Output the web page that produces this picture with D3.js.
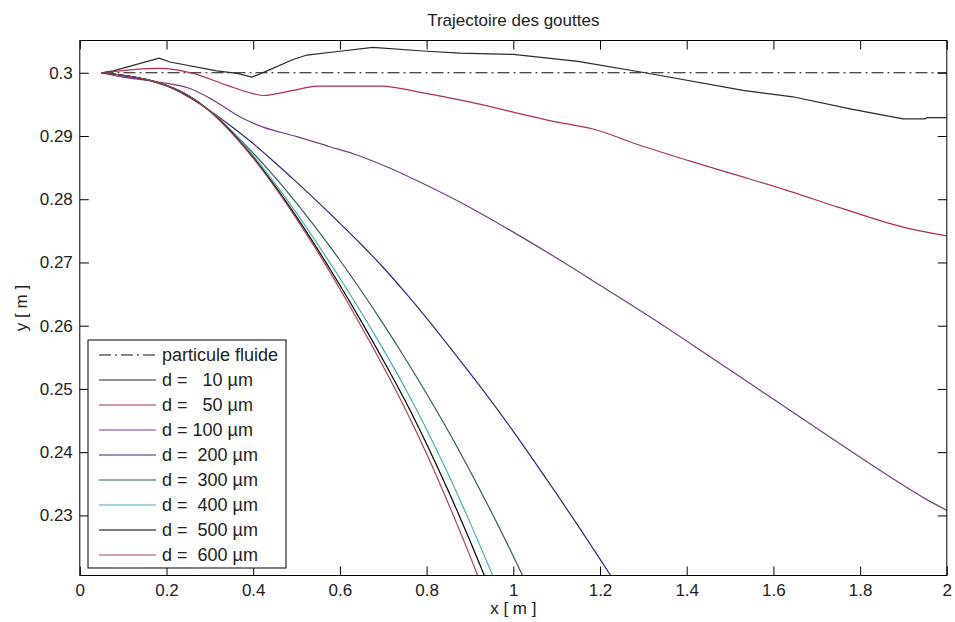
<!DOCTYPE html>
<html>
<head>
<meta charset="utf-8">
<script src="https://cdn.jsdelivr.net/npm/d3@7"></script>
<style>
  body { margin: 0; background: #fff; }
  svg text { font-family: "Liberation Sans", Arial, sans-serif; fill: #222; }
</style>
</head>
<body>
<div id="chart"></div>
<script>
// Tick values
var xTicks = [0, 0.2, 0.4, 0.6, 0.8, 1, 1.2, 1.4, 1.6, 1.8, 2];
var yTicks = [0.23, 0.24, 0.25, 0.26, 0.27, 0.28, 0.29, 0.3];

// Fluid particle (dash-dot reference)
var xFluid = [0.05, 2];
var yFluid = [0.3, 0.3];

// d = 10 um
var x10 = [0.05, 0.077, 0.183, 0.208, 0.316, 0.363, 0.397, 0.432, 0.492, 0.524, 0.6, 0.676, 0.801, 0.877, 1.0, 1.149, 1.304, 1.53, 1.645, 1.777, 1.899, 1.95, 1.954, 2.0];
var y10 = [0.3, 0.3003, 0.3023, 0.3017, 0.3003, 0.2999, 0.2993, 0.3003, 0.3021, 0.3028, 0.3034, 0.304, 0.3034, 0.3031, 0.3029, 0.3018, 0.3, 0.2972, 0.2962, 0.2943, 0.2927, 0.2927, 0.2929, 0.2929];

// d = 50 um
var x50 = [0.05, 0.185, 0.261, 0.34, 0.4, 0.423, 0.492, 0.547, 0.693, 0.801, 0.877, 1.108, 1.184, 1.285, 1.414, 1.516, 1.631, 1.747, 1.899, 2.0];
var y50 = [0.3, 0.3007, 0.2999, 0.298, 0.2967, 0.2964, 0.2972, 0.2979, 0.2979, 0.2967, 0.2957, 0.2921, 0.2911, 0.2887, 0.2859, 0.2838, 0.2814, 0.2788, 0.2756, 0.2742];

// d = 100 um
var x100 = [0.05, 0.1, 0.185, 0.254, 0.307, 0.37, 0.423, 0.501, 0.577, 0.639, 0.716, 0.8, 0.9, 1.0, 1.1, 1.2, 1.338, 1.493, 1.645, 1.8, 1.954, 2.0];
var y100 = [0.3, 0.2993, 0.2985, 0.2975, 0.2957, 0.293, 0.2914, 0.2899, 0.2883, 0.287, 0.2849, 0.2822, 0.2787, 0.2748, 0.2707, 0.2664, 0.2604, 0.2533, 0.2463, 0.2392, 0.2325, 0.2308];

// d = 200 um
var x200 = [0.05, 0.1, 0.15, 0.2, 0.25, 0.3, 0.35, 0.4, 0.45, 0.5, 0.55, 0.6, 0.65, 0.7, 0.75, 0.8, 0.85, 0.9, 0.95, 1.0, 1.05, 1.1, 1.15, 1.2, 1.25];
var y200 = [0.3, 0.2995, 0.2989, 0.2979, 0.2962, 0.294, 0.2915, 0.2888, 0.2858, 0.2827, 0.2795, 0.2762, 0.2728, 0.2692, 0.2653, 0.2612, 0.2569, 0.2525, 0.248, 0.2433, 0.2384, 0.2334, 0.2283, 0.2231, 0.2178];

// d = 300 um
var x300 = [0.05, 0.1, 0.15, 0.2, 0.25, 0.3, 0.35, 0.4, 0.45, 0.5, 0.55, 0.6, 0.65, 0.7, 0.75, 0.8, 0.85, 0.9, 0.95, 1.0, 1.04];
var y300 = [0.3, 0.2996, 0.299, 0.298, 0.2964, 0.294, 0.2908, 0.2873, 0.2835, 0.2794, 0.275, 0.27035, 0.26545, 0.2603, 0.2549, 0.24925, 0.24335, 0.23705, 0.23045, 0.22355, 0.21787];

// d = 400 um
var x400 = [0.05, 0.1, 0.15, 0.2, 0.25, 0.3, 0.35, 0.4, 0.45, 0.5, 0.55, 0.6, 0.65, 0.7, 0.75, 0.8, 0.85, 0.9, 0.95, 0.97];
var y400 = [0.3, 0.2996, 0.299, 0.298, 0.2964, 0.294, 0.2908, 0.2869, 0.2825, 0.2778, 0.27275, 0.2675, 0.262, 0.25625, 0.2502, 0.2436, 0.2365, 0.2289, 0.2209, 0.2176];

// d = 500 um
var x500 = [0.05, 0.1, 0.15, 0.2, 0.25, 0.3, 0.35, 0.4, 0.45, 0.5, 0.55, 0.6, 0.65, 0.7, 0.75, 0.8, 0.85, 0.9, 0.95];
var y500 = [0.3, 0.2996, 0.299, 0.298, 0.2964, 0.2939, 0.2906, 0.2866, 0.2821, 0.2772, 0.27195, 0.2664, 0.2606, 0.25455, 0.2482, 0.2413, 0.2339, 0.226, 0.21775];

// d = 600 um
var x600 = [0.05, 0.1, 0.15, 0.2, 0.25, 0.3, 0.35, 0.4, 0.45, 0.5, 0.55, 0.6, 0.65, 0.7, 0.75, 0.8, 0.85, 0.9, 0.95];
var y600 = [0.3, 0.2996, 0.299, 0.298, 0.2964, 0.2939, 0.2905, 0.2865, 0.2819, 0.2769, 0.27155, 0.2658, 0.2598, 0.25355, 0.24695, 0.23975, 0.2319, 0.2236, 0.2149];

var labels = ["particule fluide", "d =   10 µm", "d =   50 µm", "d = 100 µm", "d =  200 µm",
              "d =  300 µm", "d =  400 µm", "d =  500 µm", "d =  600 µm"];
var colors = ["#111111", "#2a2a2a", "#b0304f", "#7a3b8c", "#2b2b7a", "#2f5f55", "#3fb3b3", "#000000", "#b04050"];

var series = [
  [xFluid, yFluid], [x10, y10], [x50, y50], [x100, y100], [x200, y200],
  [x300, y300], [x400, y400], [x500, y500], [x600, y600]
].map(function (s, i) {
  return {
    label: labels[i],
    color: colors[i],
    dashed: i === 0,
    smooth: i > 1, // the 10 um path keeps its sharp corners
    points: s[0].map(function (x, j) { return [x, s[1][j]]; })
  };
});

// Chart dimensions (plot box edges)
var w = 955;
var h = 622;
var padL = 79.8, padR = 946.8, padT = 40.5, padB = 575.5;

var svg = d3.select("#chart").append("svg").attr("width", w).attr("height", h);

var xScale = d3.scaleLinear().domain([0, 2]).range([padL, padR]);
var yScale = d3.scaleLinear().domain([0.2205, 0.3051]).range([padB, padT]);

svg.append("clipPath").attr("id", "plot")
  .append("rect").attr("x", padL).attr("y", padT)
  .attr("width", padR - padL).attr("height", padB - padT);

// Lines
var lineSharp = d3.line().x(function (d) { return xScale(d[0]); }).y(function (d) { return yScale(d[1]); });
var lineSmooth = d3.line().curve(d3.curveMonotoneX)
  .x(function (d) { return xScale(d[0]); }).y(function (d) { return yScale(d[1]); });

svg.append("g").attr("clip-path", "url(#plot)")
  .selectAll("path").data(series).enter().append("path")
  .attr("d", function (d) { return (d.smooth ? lineSmooth : lineSharp)(d.points); })
  .attr("fill", "none")
  .attr("stroke", function (d) { return d.color; })
  .attr("stroke-width", 1.2)
  .attr("stroke-dasharray", function (d) { return d.dashed ? "12,4,2,4" : null; });

// Axes (MATLAB box with inward ticks)
var fontSize = 17;
function styleAxis(g) {
  g.select(".domain").remove();
  g.selectAll(".tick line").attr("stroke", "#000");
  g.selectAll("text").attr("font-size", fontSize).style("font-family", "Liberation Sans, Arial, sans-serif").attr("fill", "#222");
}

svg.append("g").attr("transform", "translate(0," + padB + ")")
  .call(d3.axisBottom(xScale).tickValues(xTicks).tickSize(-9).tickPadding(8).tickFormat(d3.format("")))
  .call(styleAxis);
svg.append("g").attr("transform", "translate(0," + padT + ")")
  .call(d3.axisTop(xScale).tickValues(xTicks).tickSize(-9).tickFormat(""))
  .call(styleAxis);
svg.append("g").attr("transform", "translate(" + padL + ",0)")
  .call(d3.axisLeft(yScale).tickValues(yTicks).tickSize(-9).tickPadding(7).tickFormat(d3.format("")))
  .call(styleAxis);
svg.append("g").attr("transform", "translate(" + padR + ",0)")
  .call(d3.axisRight(yScale).tickValues(yTicks).tickSize(-9).tickFormat(""))
  .call(styleAxis);

svg.append("rect").attr("x", padL).attr("y", padT)
  .attr("width", padR - padL).attr("height", padB - padT)
  .attr("fill", "none").attr("stroke", "#000").attr("stroke-width", 1);

// Titles
svg.append("text").attr("x", (padL + padR) / 2).attr("y", 26)
  .attr("text-anchor", "middle").attr("font-size", fontSize).text("Trajectoire des gouttes");
svg.append("text").attr("x", (padL + padR) / 2).attr("y", 614)
  .attr("text-anchor", "middle").attr("font-size", fontSize).text("x [ m ]");
svg.append("text").attr("transform", "translate(27," + (padT + padB) / 2 + ") rotate(-90)")
  .attr("text-anchor", "middle").attr("font-size", fontSize).text("y [ m ]");

// Legend
var legend = svg.append("g").attr("transform", "translate(88,340)");
legend.append("rect").attr("width", 198).attr("height", 228)
  .attr("fill", "#fff").attr("stroke", "#000");
var rows = legend.selectAll("g.row").data(series).enter().append("g")
  .attr("transform", function (d, i) { return "translate(0," + (15 + i * 25) + ")"; });
rows.append("line").attr("x1", 11).attr("x2", 68)
  .attr("stroke", function (d) { return d.color; })
  .attr("stroke-width", 1.2)
  .attr("stroke-dasharray", function (d) { return d.dashed ? "12,4,2,4" : null; });
rows.append("text").attr("x", 74).attr("dy", "0.35em")
  .attr("font-size", 18).style("white-space", "pre")
  .text(function (d) { return d.label; });
</script>
</body>
</html>
